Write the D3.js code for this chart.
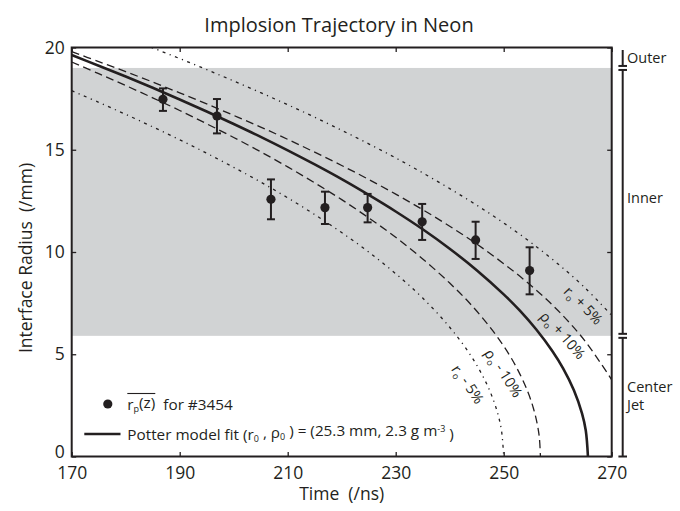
<!DOCTYPE html>
<html>
<head>
<meta charset="utf-8">
<script src="https://cdn.jsdelivr.net/npm/d3@7"></script>
<style>
  body { margin: 0; background: #fff; }
  svg { display: block; }
  text { font-family: "Open Sans", sans-serif; fill: #231f20; white-space: pre; }
</style>
</head>
<body>
<svg id="chart" width="680" height="511"></svg>
<script>
// Measured interface radius (mm) vs time (ns) for shot #3454
const shotTimes = [186.9, 196.9, 206.9, 216.9, 224.8, 234.9, 244.8, 254.8];
const shotRadius = [17.47, 16.65, 12.58, 12.17, 12.17, 11.48, 10.59, 9.09];
const shotErrLow = [16.90, 15.80, 11.60, 11.37, 11.45, 10.59, 9.66, 7.93];
const shotErrHigh = [18.00, 17.48, 13.55, 12.95, 12.84, 12.35, 11.48, 10.23];

// Potter model trajectories, [time ns, radius mm]
const potterFit = [[170,19.63],[175,19.11],[180,18.58],[185,18.03],[190,17.46],[195,16.87],[200,16.26],[205,15.63],[210,14.97],[215,14.28],[220,13.56],[225,12.79],[230,11.98],[235,11.11],[240,10.16],[245,9.11],[250,7.93],[253,7.13],[256,6.22],[259,5.16],[261,4.31],[263,3.24],[264.5,2.11],[265.2,1.27],[265.6,0]];
const rhoPlus10 = [[170,19.80],[175,19.31],[180,18.82],[185,18.31],[190,17.78],[195,17.24],[200,16.68],[205,16.11],[210,15.51],[215,14.88],[220,14.23],[225,13.55],[230,12.83],[235,12.07],[240,11.26],[245,10.39],[250,9.43],[255,8.37],[260,7.15],[265,5.67],[270,3.75]];
const rhoMinus10 = [[170,19.29],[175,18.72],[180,18.14],[185,17.54],[190,16.92],[195,16.27],[200,15.60],[205,14.90],[210,14.16],[215,13.38],[220,12.56],[225,11.67],[230,10.72],[235,9.66],[240,8.48],[244,7.41],[248,6.14],[251,4.99],[253,4.03],[254.5,3.14],[255.5,2.36],[256.2,1.60],[256.6,0.93],[256.8,0]];
const rPlus5 = [[180,20.49],[185,19.98],[190,19.46],[195,18.92],[200,18.36],[205,17.79],[210,17.20],[215,16.59],[220,15.95],[225,15.29],[230,14.60],[235,13.87],[240,13.10],[245,12.29],[250,11.42],[255,10.47],[260,9.43],[265,8.26],[270,6.90]];
const rMinus5 = [[170,17.89],[175,17.32],[180,16.73],[185,16.12],[190,15.49],[195,14.83],[200,14.14],[205,13.42],[210,12.65],[215,11.83],[220,10.95],[225,10.00],[230,8.94],[235,7.75],[240,6.32],[244,4.90],[246.5,3.74],[248,2.83],[249,2.00],[249.6,1.26],[250,0]];

// Axis ticks
const timeTicks = [170, 190, 210, 230, 250, 270];
const radiusTicks = [0, 5, 10, 15, 20];

// Radial regions of the pinch, [label lines, inner radius, outer radius]
const regionNames = [["Outer"], ["Inner"], ["Center", "Jet"]];
const regionBounds = [[19, 20], [5.9, 19], [0, 5.9]];

const ink = "#231f20";
const svg = d3.select("#chart");
const x = d3.scaleLinear().domain([170, 270]).range([71.7, 611.7]);
const y = d3.scaleLinear().domain([0, 20]).range([456.5, 47.5]);

// Title
svg.append("text").attr("x", 339).attr("y", 32).attr("text-anchor", "middle")
  .style("font-size", "20px").text("Implosion Trajectory in Neon");

// Shaded "Inner" band
svg.append("rect")
  .attr("x", x(170)).attr("width", x(270) - x(170))
  .attr("y", y(regionBounds[1][1])).attr("height", y(regionBounds[1][0]) - y(regionBounds[1][1]))
  .attr("fill", "#d1d3d4");

svg.append("defs").append("clipPath").attr("id", "plotClip")
  .append("rect").attr("x", x(170)).attr("y", y(20))
  .attr("width", x(270) - x(170)).attr("height", y(0) - y(20));

const line = d3.line().x(d => x(d[0])).y(d => y(d[1])).curve(d3.curveCatmullRom.alpha(0.5));
const curves = svg.append("g").attr("clip-path", "url(#plotClip)").attr("fill", "none").attr("stroke", ink);

const dashed = "8,4.5";
const dashDot = "3,4.5,1.2,4.5";
curves.append("path").datum(rPlus5).attr("d", line).attr("stroke-width", 1.3).attr("stroke-dasharray", dashDot);
curves.append("path").datum(rMinus5).attr("d", line).attr("stroke-width", 1.3).attr("stroke-dasharray", dashDot);
curves.append("path").datum(rhoPlus10).attr("d", line).attr("stroke-width", 1.3).attr("stroke-dasharray", dashed);
curves.append("path").datum(rhoMinus10).attr("d", line).attr("stroke-width", 1.3).attr("stroke-dasharray", dashed);
curves.append("path").datum(potterFit).attr("d", line).attr("stroke-width", 2.6);

// Data points with error bars
const pts = svg.append("g").attr("stroke", ink).attr("stroke-width", 2);
shotTimes.forEach((t, i) => {
  const cx = x(t);
  pts.append("line").attr("x1", cx).attr("x2", cx).attr("y1", y(shotErrLow[i])).attr("y2", y(shotErrHigh[i]));
  [shotErrLow[i], shotErrHigh[i]].forEach(v => {
    pts.append("line").attr("x1", cx - 4).attr("x2", cx + 4).attr("y1", y(v)).attr("y2", y(v));
  });
  pts.append("circle").attr("cx", cx).attr("cy", y(shotRadius[i])).attr("r", 4.6)
    .attr("fill", ink).attr("stroke", "none");
});

// Axes with inward ticks
function styleAxis(g) {
  g.select(".domain").remove();
  g.selectAll(".tick line").attr("stroke", ink).attr("stroke-width", 1.3);
  g.selectAll("text").style("font-size", "17.5px").attr("fill", ink).style("font-family", '"Open Sans", sans-serif');
}
svg.append("g").attr("transform", `translate(0,${y(0)})`)
  .call(d3.axisBottom(x).tickValues(timeTicks).tickSize(-4.5).tickPadding(10)).call(styleAxis);
svg.append("g").attr("transform", `translate(0,${y(20)})`)
  .call(d3.axisTop(x).tickValues(timeTicks).tickSize(-4.5).tickFormat("")).call(styleAxis);
const yAxis = svg.append("g").attr("transform", `translate(${x(170)},0)`)
  .call(d3.axisLeft(y).tickValues(radiusTicks).tickSize(-4.5).tickPadding(7)).call(styleAxis);
// lift the "0" label a little so it clears the first time label
yAxis.selectAll(".tick").filter(d => d === 0).select("text").attr("dy", "0.05em");
svg.append("g").attr("transform", `translate(${x(270)},0)`)
  .call(d3.axisRight(y).tickValues(radiusTicks).tickSize(-4.5).tickFormat("")).call(styleAxis);

// Frame
svg.append("rect").attr("x", x(170)).attr("y", y(20))
  .attr("width", x(270) - x(170)).attr("height", y(0) - y(20))
  .attr("fill", "none").attr("stroke", ink).attr("stroke-width", 2);

// Axis titles
svg.append("text").attr("x", x(220)).attr("y", 500).attr("text-anchor", "middle")
  .style("font-size", "17.5px").text("Time  (/ns)");
svg.append("text").attr("transform", `translate(32,${(y(0) + y(20)) / 2 + 6}) rotate(-90)`)
  .attr("text-anchor", "middle").style("font-size", "17.5px").text("Interface Radius  (/mm)");

// Region brackets on the right
const bx = 622.7;
const br = svg.append("g").attr("stroke", ink).attr("stroke-width", 2);
regionBounds.forEach((b, i) => {
  const top = i === 0 ? y(b[1]) + 2.5 : y(b[1]) + 2;
  const bottom = i === 2 ? y(b[0]) : y(b[0]) - 2;
  br.append("line").attr("x1", bx).attr("x2", bx).attr("y1", top).attr("y2", bottom);
  br.append("line").attr("x1", bx - 4.3).attr("x2", bx + 4.3).attr("y1", bottom).attr("y2", bottom);
  if (i > 0) br.append("line").attr("x1", bx - 4.3).attr("x2", bx + 4.3).attr("y1", top).attr("y2", top);
  const mid = (y(b[0]) + y(b[1])) / 2;
  const names = regionNames[i];
  const off = i === 1 ? -4 : 0;
  names.forEach((n, j) => {
    svg.append("text").attr("x", 627).attr("y", mid + off + (j - (names.length - 1) / 2) * 18 + 5)
      .style("font-size", "14.5px").text(n);
  });
});

// Curve labels, rotated along their lines
function curveLabel(t, r, angle, sym, rest) {
  const tx = svg.append("text")
    .attr("transform", `translate(${x(t)},${y(r)}) rotate(${angle})`)
    .attr("text-anchor", "middle").attr("dy", "0.35em").style("font-size", "14.5px");
  tx.append("tspan").text(sym);
  tx.append("tspan").attr("dy", "0.3em").style("font-size", "9px").text("o");
  tx.append("tspan").attr("dy", "-0.3em").text(rest);
}
curveLabel(264.6, 7.35, 47, "r", " + 5%");
curveLabel(260.8, 5.9, 49, "\u03c1", " + 10%");
curveLabel(249.8, 4.05, 58, "\u03c1", " - 10%");
curveLabel(243.2, 3.5, 57, "r", " - 5%");

// Legend
svg.append("circle").attr("cx", 107.8).attr("cy", 404).attr("r", 4.6).attr("fill", ink);
const lg1 = svg.append("text").attr("x", 127.3).attr("y", 409.5).style("font-size", "15.3px");
lg1.append("tspan").text("r");
lg1.append("tspan").attr("dy", "0.3em").style("font-size", "9px").text("p");
lg1.append("tspan").attr("dy", "-0.3em").text("(z)");
const bb = lg1.node().getBBox();
svg.append("line").attr("x1", bb.x).attr("x2", bb.x + bb.width).attr("y1", 393.5).attr("y2", 393.5)
  .attr("stroke", ink).attr("stroke-width", 1.1);
svg.append("text").attr("x", 163.3).attr("y", 409.5).style("font-size", "15.3px").text("for #3454");

svg.append("line").attr("x1", 84.3).attr("x2", 120.5).attr("y1", 434).attr("y2", 434)
  .attr("stroke", ink).attr("stroke-width", 2.6);
const lg2 = svg.append("text").attr("x", 127.3).attr("y", 439.5).style("font-size", "15.3px");
lg2.append("tspan").text("Potter model fit (r");
lg2.append("tspan").attr("dy", "0.3em").style("font-size", "9px").text("0");
lg2.append("tspan").attr("dy", "-0.3em").text(" , \u03c1");
lg2.append("tspan").attr("dy", "0.3em").style("font-size", "9px").text("0");
lg2.append("tspan").attr("dy", "-0.3em").text(" ) = (25.3 mm, 2.3 g m");
lg2.append("tspan").attr("dy", "-0.45em").style("font-size", "9px").text("-3");
lg2.append("tspan").attr("dy", "0.45em").text(" )");
</script>
</body>
</html>
